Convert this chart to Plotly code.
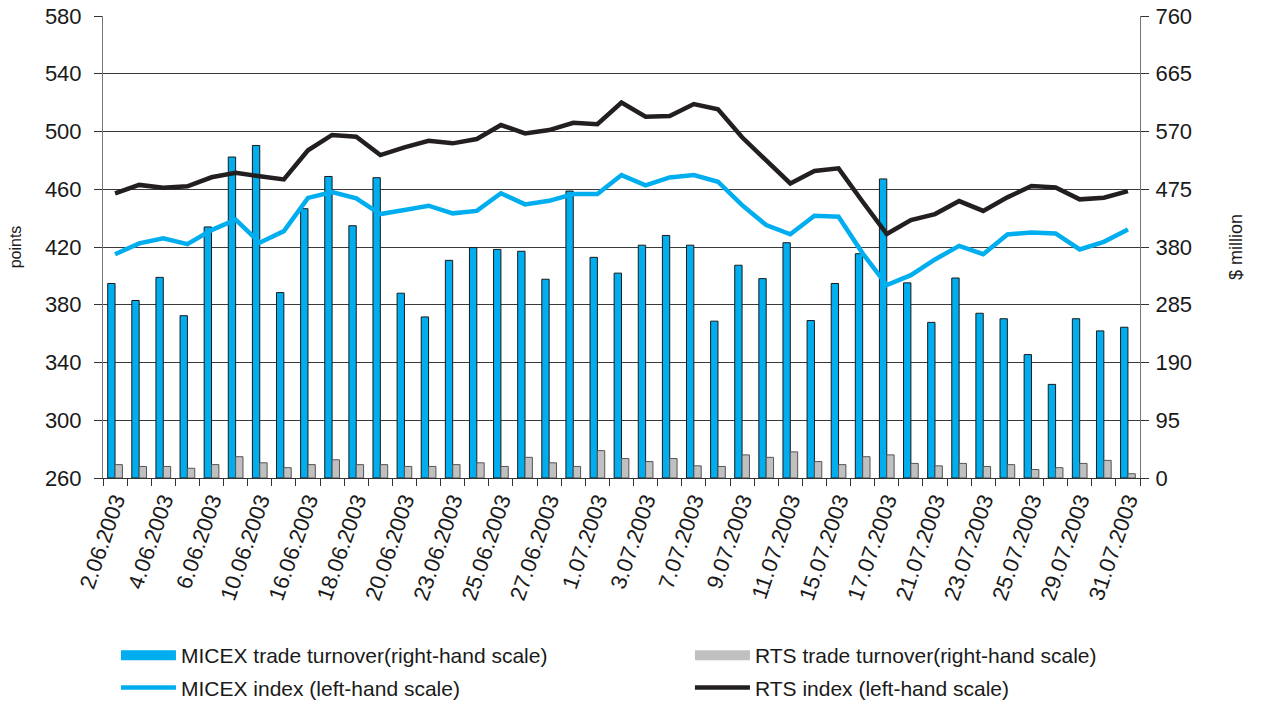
import plotly.graph_objects as go

dates = ["2.06.2003","3.06.2003","4.06.2003","5.06.2003","6.06.2003","9.06.2003","10.06.2003","11.06.2003",
         "16.06.2003","17.06.2003","18.06.2003","19.06.2003","20.06.2003","21.06.2003","23.06.2003","24.06.2003",
         "25.06.2003","26.06.2003","27.06.2003","30.06.2003","1.07.2003","2.07.2003","3.07.2003","4.07.2003",
         "7.07.2003","8.07.2003","9.07.2003","10.07.2003","11.07.2003","14.07.2003","15.07.2003","16.07.2003",
         "17.07.2003","18.07.2003","21.07.2003","22.07.2003","23.07.2003","24.07.2003","25.07.2003","28.07.2003",
         "29.07.2003","30.07.2003","31.07.2003"]

shown_labels = ["2.06.2003","4.06.2003","6.06.2003","10.06.2003","16.06.2003","18.06.2003","20.06.2003",
                "23.06.2003","25.06.2003","27.06.2003","1.07.2003","3.07.2003","7.07.2003","9.07.2003",
                "11.07.2003","15.07.2003","17.07.2003","21.07.2003","23.07.2003","25.07.2003","29.07.2003",
                "31.07.2003"]

micex_turnover = [320,292,330,267,413,528,547,305,443,496,415,494,304,265,358,
                  379,376,373,327,472,363,337,383,399,383,258,350,328,387,
                  259,320,369,492,321,256,329,271,262,203,154,262,242,248]
rts_turnover = [22,19,19,16,22,35,25,17,22,30,22,22,19,19,22,
                25,19,34,25,19,45,32,27,32,20,19,38,34,43,
                27,22,35,38,24,20,24,19,22,14,17,24,29,7]
micex_index = [415,422.5,426,422,431.7,439,423,431,454,458,453.7,442.8,445.6,448.6,443.3,
               445,457.2,449.5,452,456.7,456.7,469.8,462.7,468.2,469.8,465.2,449,435.2,428.8,
               441.6,441,415.6,393.6,400.5,411.4,420.8,415,428.7,430,429.4,418.3,423.6,432.2]
rts_index = [457.2,463,461,462,468.3,471.4,469,466.8,487,497.6,496.4,483.7,489,493.6,491.8,
             494.8,504.5,498.7,501,506,505,520,510.3,510.7,519,515.4,496,480.2,464,
             472.6,474.5,451.3,429,438.6,442.8,451.8,445,454.4,462.2,461.3,453,454.1,458.7]

left_ticks = [260,300,340,380,420,460,500,540,580]
right_ticks = [0,95,190,285,380,475,570,665,760]

names = ["MICEX trade turnover(right-hand scale)", "RTS trade turnover(right-hand scale)",
         "MICEX index (left-hand scale)", "RTS index (left-hand scale)"]

FONT = "Liberation Sans, Arial, sans-serif"
BLUE = "#00AEEF"
GREY = "#C0C0C0"
DARK = "#231F20"
tick_text = [d if d in shown_labels else "" for d in dates]

fig = go.Figure()
# bars (right-hand scale)
fig.add_trace(go.Bar(x=dates, y=micex_turnover, name=names[0], showlegend=False,
                     marker=dict(color=BLUE, line=dict(color="#1a1a1a", width=1)), yaxis="y"))
fig.add_trace(go.Bar(x=dates, y=rts_turnover, name=names[1], showlegend=False,
                     marker=dict(color=GREY, line=dict(color="#555555", width=1)), yaxis="y"))
# lines (left-hand scale)
fig.add_trace(go.Scatter(x=dates, y=micex_index, name=names[2], mode="lines",
                         line=dict(color=BLUE, width=4.5), yaxis="y2",
                         legend="legend", legendgroup="b", legendrank=2))
fig.add_trace(go.Scatter(x=dates, y=rts_index, name=names[3], mode="lines",
                         line=dict(color=DARK, width=4.5), yaxis="y2",
                         legend="legend2", legendgroup="d", legendrank=2))
# legend keys for the bars (wide rectangles as in the original)
fig.add_trace(go.Scatter(x=[None], y=[None], name=names[0], mode="lines",
                         line=dict(color=BLUE, width=13), yaxis="y2",
                         legend="legend", legendgroup="a", legendrank=1))
fig.add_trace(go.Scatter(x=[None], y=[None], name=names[1], mode="lines",
                         line=dict(color=GREY, width=13), yaxis="y2",
                         legend="legend2", legendgroup="c", legendrank=1))

leg_common = dict(orientation="v", yanchor="top", xanchor="left", y=-0.3398,
                  font=dict(size=21, family=FONT, color="#1a1a1a"),
                  traceorder="grouped", tracegroupgap=2, itemwidth=55,
                  bgcolor="rgba(0,0,0,0)")

fig.update_layout(
    width=1263, height=701,
    margin=dict(l=103, r=123, t=16, b=223, autoexpand=False),
    paper_bgcolor="white", plot_bgcolor="white",
    font=dict(family=FONT, color="#1a1a1a"),
    barmode="group", bargap=0.39, bargroupgap=0,
    showlegend=True,
    legend=dict(x=0.0125, **leg_common),
    legend2=dict(x=0.566, **leg_common),
    xaxis=dict(type="category", categoryorder="array", categoryarray=dates,
               tickmode="array", tickvals=dates, ticktext=tick_text, tickangle=-71,
               tickson="boundaries", ticks="outside", ticklen=7, tickcolor="#333",
               tickfont=dict(size=22, family=FONT), showgrid=False, automargin=False,
               showline=True, linecolor="#333", linewidth=1, range=[-0.5, 42.5]),
    yaxis=dict(side="right", range=[0, 760], tickvals=right_ticks, ticks="outside", ticklen=8,
               tickcolor="#333", tickfont=dict(size=22, family=FONT), showgrid=True,
               gridcolor="#3a3a3a", gridwidth=1, showline=True, linecolor="#777", linewidth=1,
               zeroline=False, automargin=False, ticklabelstandoff=2, ticklabeloverflow="allow",
               title=dict(text="$ million", font=dict(size=18, family=FONT), standoff=38)),
    yaxis2=dict(side="left", overlaying="y", range=[260, 580], tickvals=left_ticks, ticks="outside",
                ticklen=8, tickcolor="#333", tickfont=dict(size=22, family=FONT), showgrid=False,
                showline=True, linecolor="#777", linewidth=1, zeroline=False, automargin=False,
                ticklabelstandoff=8, ticklabeloverflow="allow",
                title=dict(text="points", font=dict(size=16, family=FONT), standoff=19)),
)

# remove the browser's default 8px page margin so the figure fills the window exactly
fig.write_html("out.html", config={"displayModeBar": False},
               post_script="document.body.style.margin='0';")
